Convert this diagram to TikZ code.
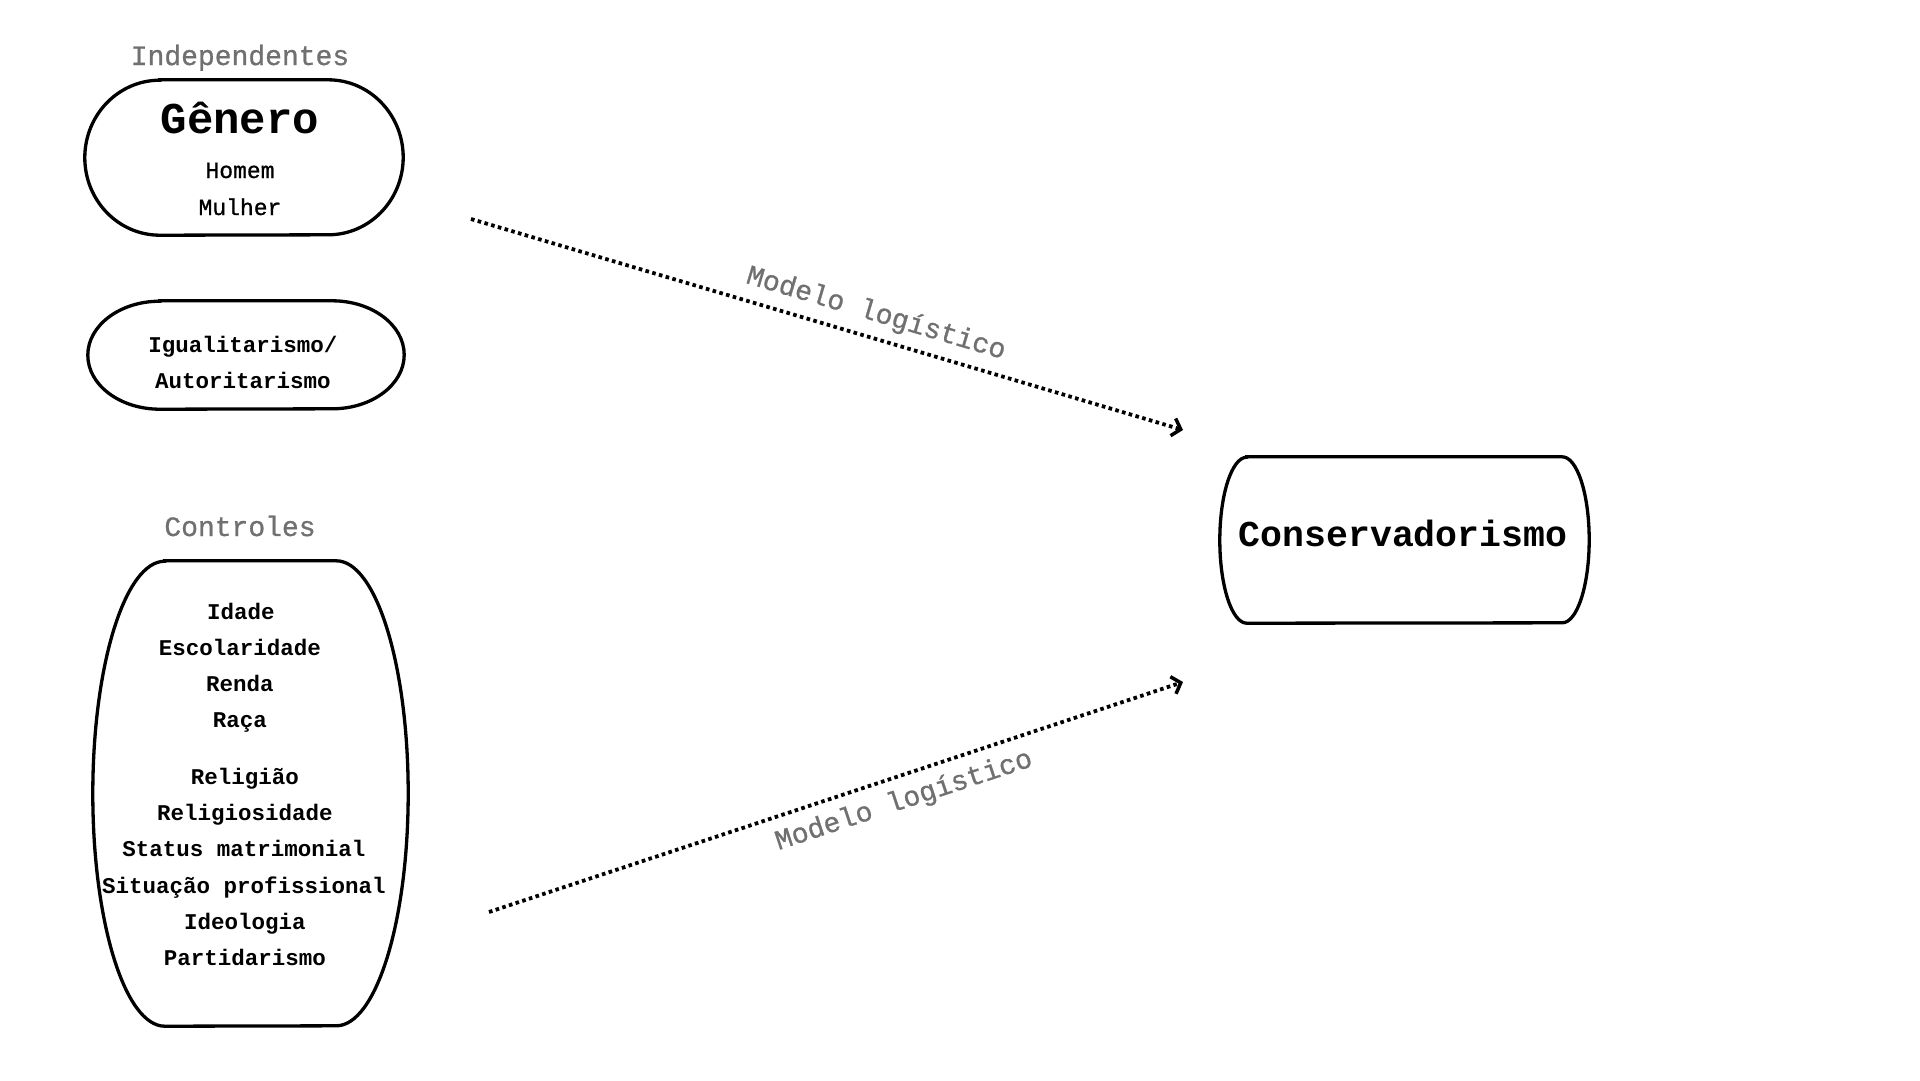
\documentclass[tikz,border=0pt]{standalone}
\usepackage{fontspec}
\setmainfont{Liberation Mono}
\newfontfamily\medmono[FakeBold=0.9]{Liberation Mono}
\usetikzlibrary{arrows.meta}
\definecolor{lblgray}{RGB}{112,112,112}
\tikzset{
  capsule/.style={draw=none, inner sep=0pt},
  boxline/.style={line width=3.3pt, draw=black},
  headtxt/.style={font=\medmono\fontsize{28}{30}\selectfont, text=lblgray, anchor=base},
  itemtxt/.style={font=\bfseries\fontsize{22.5}{24}\selectfont, anchor=base},
  subtxt/.style={font=\medmono\fontsize{23}{25}\selectfont, anchor=base},
  flow/.style={line width=3.8pt, dash pattern=on 3.6pt off 3.4pt,
    -{Straight Barb[length=8pt,width=18pt,line width=3.5pt]}},
  flowlabel/.style={font=\medmono\fontsize{28}{30}\selectfont, text=lblgray},
}
\newcommand{\capsuledraw}[3]{%
  \draw[boxline] ([xshift=#2]#1.north west) -- ([xshift=-#2]#1.north east)
    arc[start angle=90, end angle=-90, x radius=#2, y radius=#3]
    -- ([xshift=#2]#1.south west)
    arc[start angle=270, end angle=90, x radius=#2, y radius=#3] -- cycle;
}
\begin{document}
\begin{tikzpicture}[x=1pt, y=-1pt]
  \useasboundingbox (0,0) rectangle (1920,1080);
  % boxes
  \node[capsule, minimum width=318pt, minimum height=155pt] (gen) at (244,157.5) {};
  \node[capsule, minimum width=316pt, minimum height=108pt] (igu) at (246,355) {};
  \node[capsule, minimum width=315pt, minimum height=465pt] (ctl) at (250.5,793.5) {};
  \node[capsule, minimum width=369pt, minimum height=166pt] (con) at (1404.5,540) {};
  \capsuledraw{gen}{75pt}{77.5pt}
  \capsuledraw{igu}{72pt}{54pt}
  \capsuledraw{ctl}{72pt}{232.5pt}
  \capsuledraw{con}{27pt}{83pt}
  % texts
  \node[headtxt] (indep) at (240,65) {Independentes};
  \node[font=\bfseries\fontsize{44}{48}\selectfont, anchor=base] (genero) at (240,133) {Gênero};
  \node[subtxt] (homem) at (240,178) {Homem};
  \node[subtxt] (mulher) at (240,215) {Mulher};
  \node[itemtxt] (igu1) at (243,352) {Igualitarismo/};
  \node[itemtxt] (igu2) at (243,388) {Autoritarismo};
  \node[headtxt] (ctrl) at (240,536) {Controles};
  \node[itemtxt] (c1) at (241,619) {Idade};
  \node[itemtxt] (c2) at (240,655) {Escolaridade};
  \node[itemtxt] (c3) at (240,691) {Renda};
  \node[itemtxt] (c4) at (240,727) {Raça};
  \node[itemtxt] (c5) at (245,784) {Religião};
  \node[itemtxt] (c6) at (245,820) {Religiosidade};
  \node[itemtxt] (c7) at (244,856) {Status matrimonial};
  \node[itemtxt] (c8) at (244,893) {Situação profissional};
  \node[itemtxt] (c9) at (245,929) {Ideologia};
  \node[itemtxt] (c10) at (245,965) {Partidarismo};
  \node[font=\bfseries\fontsize{36.5}{40}\selectfont, anchor=base] (contxt) at (1403,546) {Conservadorismo};
  % connectors
  \coordinate (a1s) at (471,219);
  \coordinate (a1e) at (1183,430);
  \coordinate (a2s) at (489,912);
  \coordinate (a2e) at (1183,682);
  \draw[flow] (a1s) -- (a1e);
  \draw[flow] (a2s) -- (a2e);
  \node[flowlabel, rotate=-16.5] (lab1) at (876,314) {Modelo logístico};
  \node[flowlabel, rotate=18.3] (lab2) at (904,801) {Modelo logístico};
\end{tikzpicture}
\end{document}
